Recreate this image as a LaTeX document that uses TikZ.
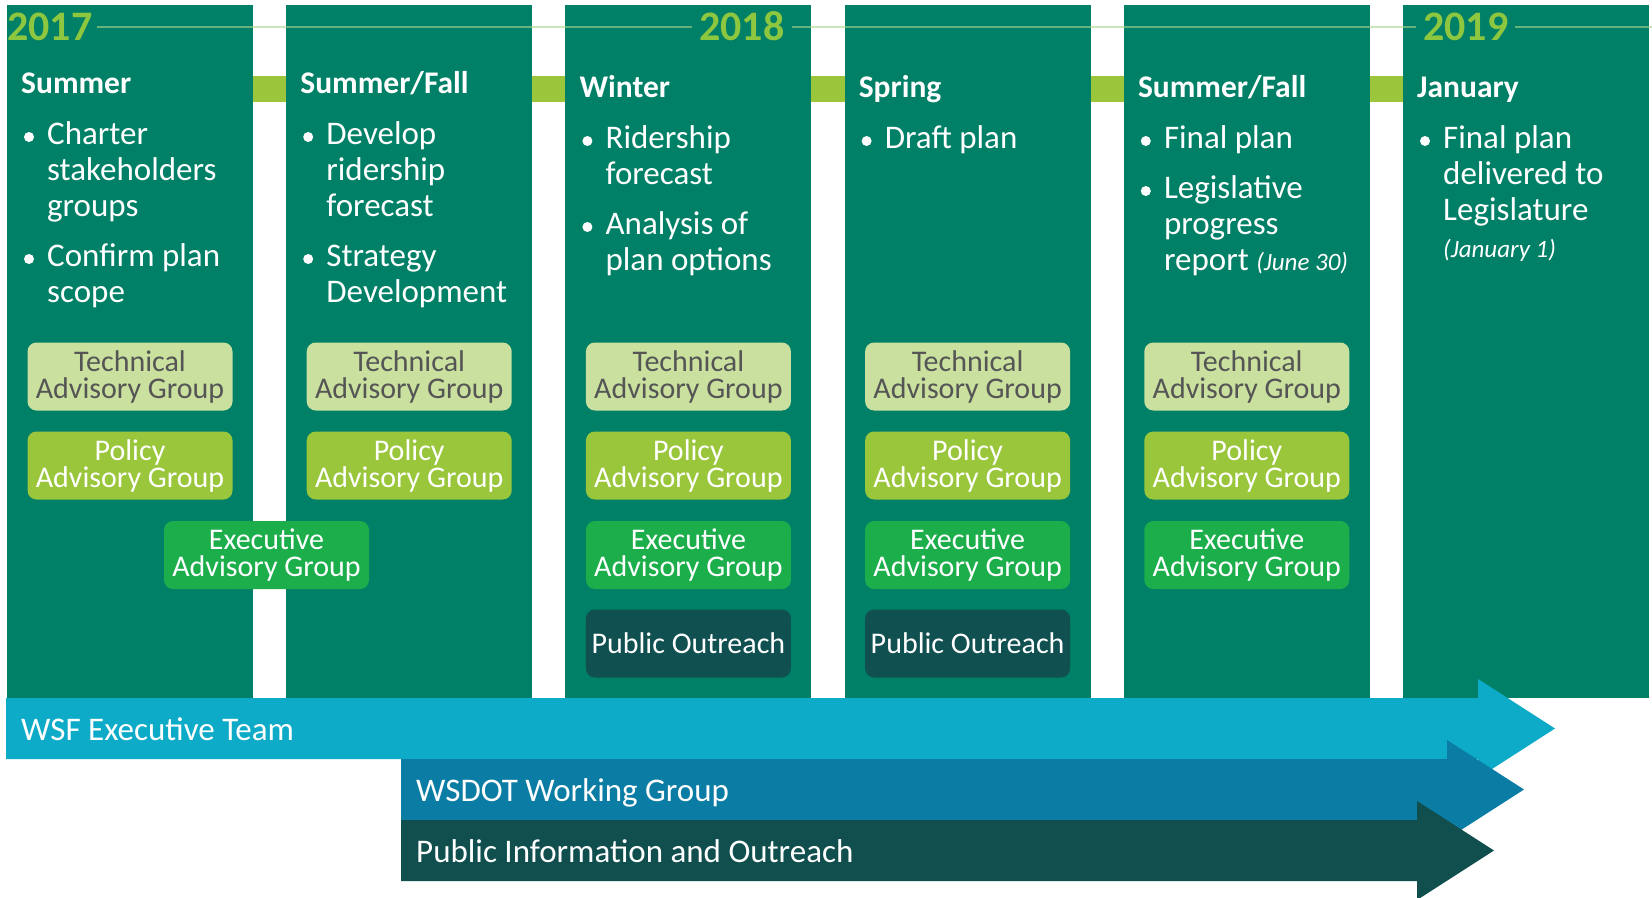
\documentclass[tikz,border=0pt]{standalone}
\usepackage{fontspec}
\setmainfont{Carlito}
\definecolor{colTeal}{RGB}{0,128,102}
\definecolor{barGreen}{RGB}{155,198,60}
\definecolor{yearGreen}{RGB}{141,198,63}
\definecolor{lineGreen}{RGB}{170,210,140}
\definecolor{techFill}{RGB}{201,224,158}
\definecolor{techText}{RGB}{85,85,85}
\definecolor{policyFill}{RGB}{154,198,60}
\definecolor{execFill}{RGB}{27,174,74}
\definecolor{poFill}{RGB}{17,80,80}
\definecolor{wsfBand}{RGB}{14,171,200}
\definecolor{wsdotBand}{RGB}{11,124,163}
\definecolor{pubBand}{RGB}{17,79,79}
\tikzset{
  colbox/.style={fill=colTeal, draw=none},
  grpbox/.style={rounded corners=9pt, minimum width=205pt, minimum height=68pt, inner sep=0pt, align=center, font=\fontsize{30}{27}\selectfont},
  tech/.style={grpbox, fill=techFill, text=techText},
  policy/.style={grpbox, fill=policyFill, text=white},
  exec/.style={grpbox, fill=execFill, text=white},
  pubout/.style={grpbox, fill=poFill, text=white},
  head/.style={anchor=base west, inner sep=0pt, text=white, font=\fontsize{31.5}{36}\selectfont\bfseries},
  item/.style={anchor=base west, inner sep=0pt, text=white, font=\fontsize{33}{36}\selectfont},
  note/.style={anchor=base west, inner sep=0pt, text=white, font=\fontsize{25}{36}\selectfont\itshape},
  yearlbl/.style={anchor=base west, inner sep=0pt, text=yearGreen, font=\fontsize{42}{42}\selectfont\bfseries},
  bandlbl/.style={anchor=base west, inner sep=0pt, text=white, font=\fontsize{33}{36}\selectfont},
  yearline/.style={draw=lineGreen, line width=1.5pt, opacity=0.6},
  bul/.style={fill=white},
}
\newcommand{\sm}[1]{{\fontsize{25}{36}\selectfont\itshape #1}}
\newcommand{\tline}[1]{\hbox{#1}}
\begin{document}
\begin{tikzpicture}[x=1pt,y=-1pt]
\useasboundingbox (0,0) rectangle (1652,897);
\fill[white] (0,0) rectangle (1652,897);
% green bar behind the columns
\fill[barGreen] (7,76) rectangle (1649,102);
% columns
\foreach \L in {7,286.2,565.4,844.6,1123.8,1403}{
  \fill[colbox] (\L,5) rectangle ++(246,693);
}
% year line
\draw[yearline] (97,27) -- (692,27);
\draw[yearline] (792,27) -- (1416,27);
\draw[yearline] (1515,27) -- (1652,27);
\node[yearlbl] (y2017) at (7,40) {2017};
\node[yearlbl] (y2018) at (699,40) {2018};
\node[yearlbl] (y2019) at (1423,40) {2019};
% ---------- column 1
\node[head] (h1) at (21,93) {Summer};
\fill[bul] (29,137) circle (5);
\node[item] (c1a) at (47,144) {\vtop{\tline{Charter}\tline{stakeholders}\tline{groups}}};
\fill[bul] (29,259) circle (5);
\node[item] (c1b) at (47,266) {\vtop{\tline{Confirm plan}\tline{scope}}};
% ---------- column 2
\node[head] (h2) at (300.2,93) {Summer/Fall};
\fill[bul] (308.2,137) circle (5);
\node[item] (c2a) at (326.2,144) {\vtop{\tline{Develop}\tline{ridership}\tline{forecast}}};
\fill[bul] (308.2,259) circle (5);
\node[item] (c2b) at (326.2,266) {\vtop{\tline{Strategy}\tline{Development}}};
% ---------- column 3
\node[head] (h3) at (579.4,97) {Winter};
\fill[bul] (587.4,141) circle (5);
\node[item] (c3a) at (605.4,148) {\vtop{\tline{Ridership}\tline{forecast}}};
\fill[bul] (587.4,227) circle (5);
\node[item] (c3b) at (605.4,234) {\vtop{\tline{Analysis of}\tline{plan options}}};
% ---------- column 4
\node[head] (h4) at (858.6,97) {Spring};
\fill[bul] (866.6,141) circle (5);
\node[item] (c4a) at (884.6,148) {Draft plan};
% ---------- column 5
\node[head] (h5) at (1137.8,97) {Summer/Fall};
\fill[bul] (1145.8,141) circle (5);
\node[item] (c5a) at (1163.8,148) {Final plan};
\fill[bul] (1145.8,191) circle (5);
\node[item] (c5b) at (1163.8,198) {\vtop{\tline{Legislative}\tline{progress}\tline{report \sm{(June 30)}}}};
% ---------- column 6
\node[head] (h6) at (1417,97) {January};
\fill[bul] (1425,141) circle (5);
\node[item] (c6a) at (1443,148) {\vtop{\tline{Final plan}\tline{delivered to}\tline{Legislature}}};
\node[note] (c6n) at (1443,257) {(January 1)};
% ---------- group boxes
\node[tech]   (t1) at (130,376.5) {Technical\\Advisory Group};
\node[policy] (p1) at (130,465.5) {Policy\\Advisory Group};
\node[exec]   (e1) at (266.5,555) {Executive\\Advisory Group};
\node[tech]   (t2) at (409.2,376.5) {Technical\\Advisory Group};
\node[policy] (p2) at (409.2,465.5) {Policy\\Advisory Group};
\node[tech]   (t3) at (688.4,376.5) {Technical\\Advisory Group};
\node[policy] (p3) at (688.4,465.5) {Policy\\Advisory Group};
\node[exec]   (e3) at (688.4,555) {Executive\\Advisory Group};
\node[pubout] (o3) at (688.4,643.5) {Public Outreach};
\node[tech]   (t4) at (967.6,376.5) {Technical\\Advisory Group};
\node[policy] (p4) at (967.6,465.5) {Policy\\Advisory Group};
\node[exec]   (e4) at (967.6,555) {Executive\\Advisory Group};
\node[pubout] (o4) at (967.6,643.5) {Public Outreach};
\node[tech]   (t5) at (1246.8,376.5) {Technical\\Advisory Group};
\node[policy] (p5) at (1246.8,465.5) {Policy\\Advisory Group};
\node[exec]   (e5) at (1246.8,555) {Executive\\Advisory Group};
% ---------- band arrows
\fill[wsfBand] (6,698) -- (1478,698) -- (1478,679) -- (1555,728.5) -- (1478,778) -- (1478,759) -- (6,759) -- cycle;
\node[bandlbl] (wsf) at (21,740) {WSF Executive Team};
\fill[wsdotBand] (401,759) -- (1447,759) -- (1447,740) -- (1524,789.5) -- (1447,839) -- (1447,820) -- (401,820) -- cycle;
\node[bandlbl] (wsdot) at (416,801) {WSDOT Working Group};
\fill[pubBand] (401,820) -- (1417,820) -- (1417,801) -- (1494,850.5) -- (1417,900) -- (1417,881) -- (401,881) -- cycle;
\node[bandlbl] (pub) at (416,862) {Public Information and Outreach};
\end{tikzpicture}
\end{document}
